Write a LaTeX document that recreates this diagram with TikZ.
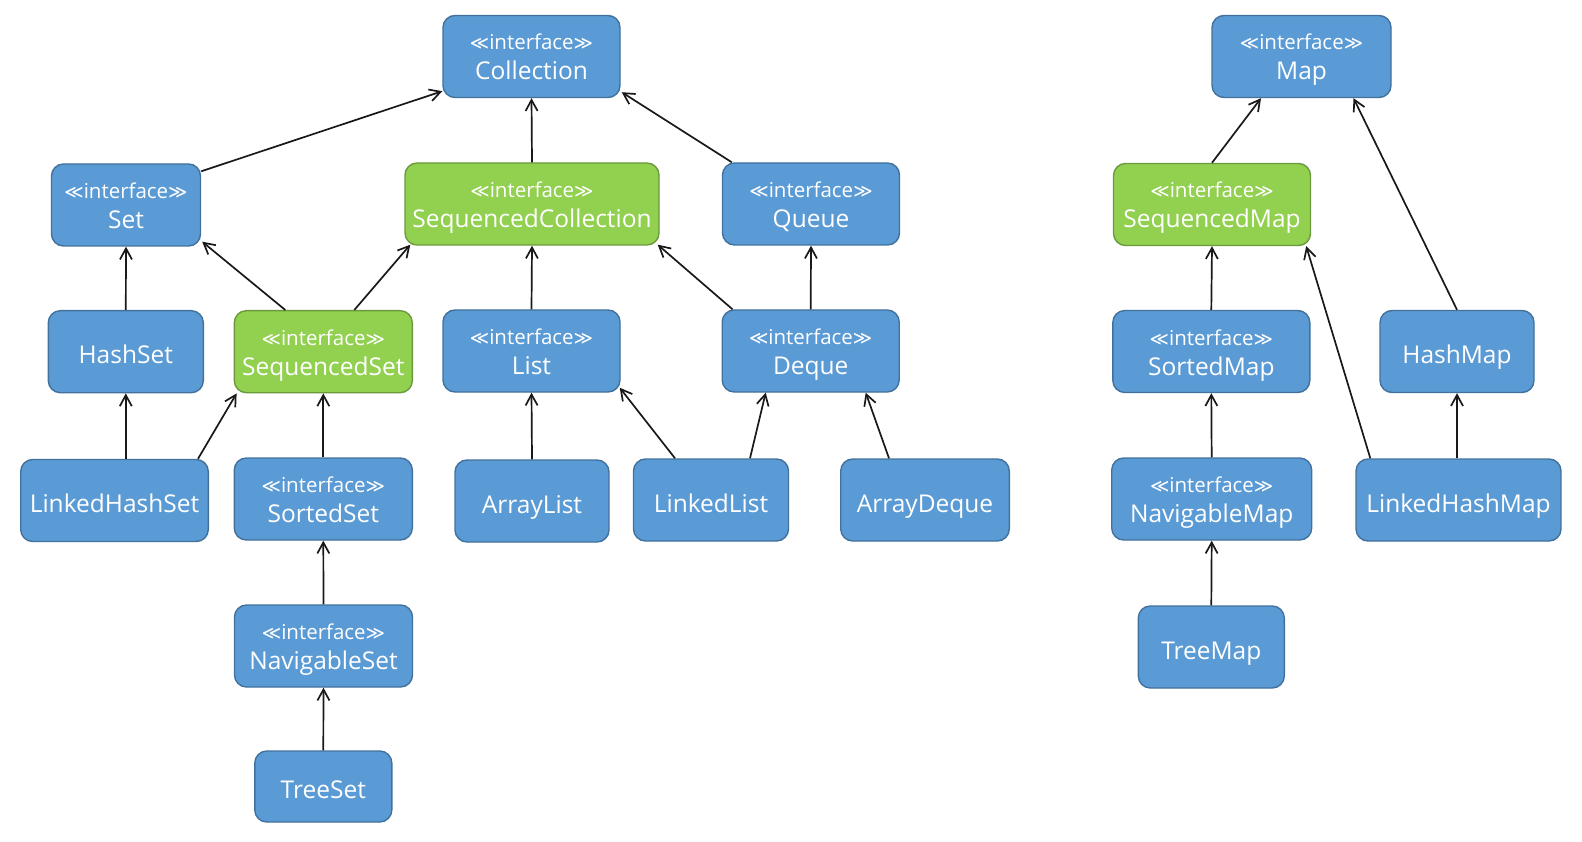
\documentclass[tikz,border=0pt]{standalone}
\usepackage{fontspec}
\setmainfont{Open Sans}
\newfontfamily\djv{DejaVu Sans}
\usetikzlibrary{arrows.meta,calc}
\definecolor{bfill}{HTML}{5B9BD5}
\definecolor{bdraw}{HTML}{41719C}
\definecolor{gfill}{HTML}{92D050}
\definecolor{gdraw}{HTML}{6A9A3C}
\newcommand{\ifcline}{{\fontsize{20.5}{30}\selectfont\rule{0pt}{23pt}{\djv\fontsize{18.5}{30}\selectfont ≪}interface{\djv\fontsize{18.5}{30}\selectfont ≫}}}
\newcommand{\lowst}{\rule[-6pt]{0pt}{6pt}}
\newcommand{\onest}{\rule[-6pt]{0pt}{36pt}}
\tikzset{
  umlbox/.style={rectangle, rounded corners=12pt, draw=bdraw, fill=bfill, line width=1.4pt,
    text=white, minimum height=82pt, inner sep=0pt, align=center,
    font=\fontsize{24.5}{30}\selectfont},
  seqbox/.style={umlbox, draw=gdraw, fill=gfill},
  arr/.style={draw=black!90, line width=1.7pt, -{Straight Barb[length=11pt,width=12pt]}}
}
\begin{document}
\begin{tikzpicture}[x=1pt,y=-1pt]
\useasboundingbox (0,0) rectangle (1582,842);
% Collection side
\node[umlbox, minimum width=177pt] (coll) at (531.5,56.5) {\ifcline\\Collection\lowst};
\node[umlbox, minimum width=149pt] (set) at (126,205) {\ifcline\\Set\lowst};
\node[seqbox, minimum width=254pt] (seqc) at (532,204) {\ifcline\\SequencedCollection\lowst};
\node[umlbox, minimum width=177pt] (queue) at (811,204) {\ifcline\\Queue\lowst};
\node[umlbox, minimum width=155pt] (hashset) at (125.8,351.7) {\onest HashSet};
\node[seqbox, minimum width=178pt] (seqset) at (323.3,351.7) {\ifcline\\SequencedSet\lowst};
\node[umlbox, minimum width=177pt] (list) at (531.5,351) {\ifcline\\List\lowst};
\node[umlbox, minimum width=177pt] (deque) at (810.7,351) {\ifcline\\Deque\lowst};
\node[umlbox, minimum width=187.6pt] (lhs) at (114.5,500.5) {\onest LinkedHashSet};
\node[umlbox, minimum width=178pt] (sortedset) at (323.3,499) {\ifcline\\SortedSet\lowst};
\node[umlbox, minimum width=154pt] (arraylist) at (532,501) {\onest ArrayList};
\node[umlbox, minimum width=155pt] (linkedlist) at (711,500) {\onest LinkedList};
\node[umlbox, minimum width=168.6pt] (arraydeque) at (925,500) {\onest ArrayDeque};
\node[umlbox, minimum width=178pt] (navset) at (323.5,646) {\ifcline\\NavigableSet\lowst};
\node[umlbox, minimum width=137pt, minimum height=71pt] (treeset) at (323.3,786.5) {\onest TreeSet};
% Map side
\node[umlbox, minimum width=179pt] (map) at (1301.5,56.5) {\ifcline\\Map\lowst};
\node[seqbox, minimum width=197pt] (seqmap) at (1212,204.5) {\ifcline\\SequencedMap\lowst};
\node[umlbox, minimum width=197pt] (sortedmap) at (1211.3,351.5) {\ifcline\\SortedMap\lowst};
\node[umlbox, minimum width=154pt] (hashmap) at (1457,351.5) {\onest HashMap};
\node[umlbox, minimum width=200pt] (navmap) at (1211.7,499) {\ifcline\\NavigableMap\lowst};
\node[umlbox, minimum width=205pt] (lhm) at (1458.5,500) {\onest LinkedHashMap};
\node[umlbox, minimum width=146pt] (treemap) at (1211.3,647) {\onest TreeMap};
% connectors
\draw[arr] ($(set.north east)+(0,8)$) -- ($(coll.south west)+(0,-7)$);
\draw[arr] (seqc.north) -- (coll.south);
\draw[arr] ($(queue.north west)+(10,0)$) -- ($(coll.south east)+(1,-6)$);
\draw[arr] ($(seqset.north)+(-38,0)$) -- ($(set.south east)+(1,-5)$);
\draw[arr] ($(seqset.north)+(31,0)$) -- ($(seqc.south west)+(6,-1)$);
\draw[arr] (hashset.north) -- (set.south);
\draw[arr] (list.north) -- (seqc.south);
\draw[arr] ($(deque.north west)+(11,0)$) -- ($(seqc.south east)+(-2,-1)$);
\draw[arr] (deque.north) -- (queue.south);
\draw[arr] (hashset.south |- lhs.north) -- (hashset.south);
\draw[arr] ($(lhs.north east)+(-11,0)$) -- ($(seqset.south west)+(3,0)$);
\draw[arr] (sortedset.north) -- (seqset.south);
\draw[arr] (arraylist.north) -- (list.south);
\draw[arr] ($(linkedlist.north)+(-36,0)$) -- ($(list.south east)+(-1,-5)$);
\draw[arr] ($(linkedlist.north)+(39,0)$) -- ($(deque.south)+(-45,0)$);
\draw[arr] ($(arraydeque.north)+(-36,0)$) -- ($(deque.south)+(55,0)$);
\draw[arr] (navset.north) -- (sortedset.south);
\draw[arr] (treeset.north) -- (navset.south);
\draw[arr] (seqmap.north) -- ($(map.south)+(-40.5,0)$);
\draw[arr] (hashmap.north) -- ($(map.south)+(52,0)$);
\draw[arr] (sortedmap.north) -- (seqmap.south);
\draw[arr] ($(lhm.north west)+(15,0)$) -- ($(seqmap.south east)+(-5,0)$);
\draw[arr] (hashmap.south |- lhm.north) -- (hashmap.south);
\draw[arr] (navmap.north) -- (sortedmap.south);
\draw[arr] (treemap.north) -- (navmap.south);
\end{tikzpicture}
\end{document}
